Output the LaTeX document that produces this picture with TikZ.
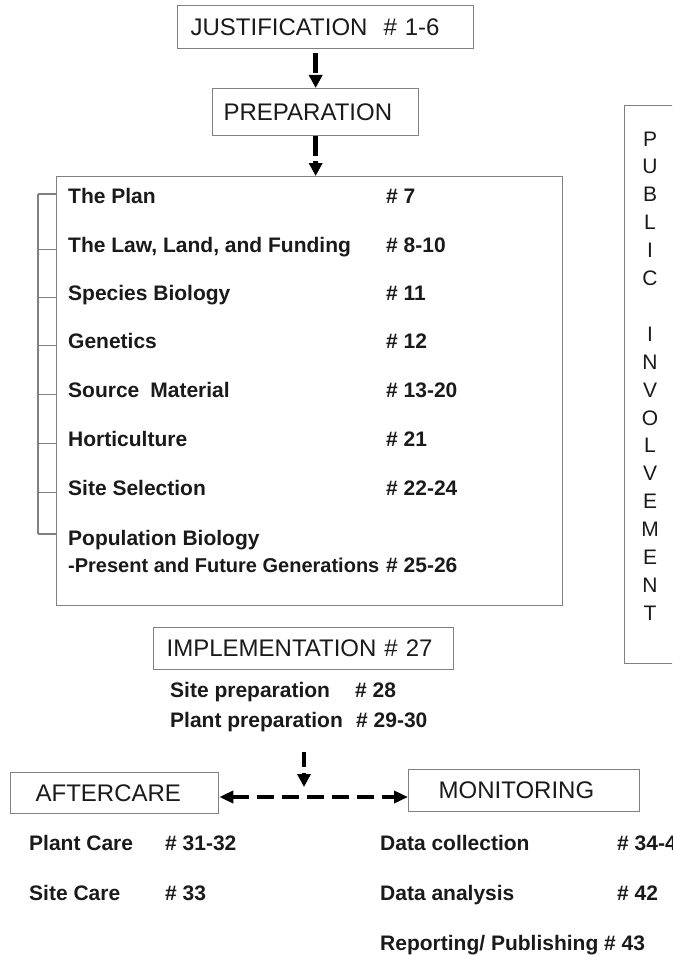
\documentclass[tikz,border=0pt]{standalone}
\usepackage{fontspec}
\setmainfont{Liberation Sans}
\usetikzlibrary{arrows.meta}
\definecolor{linegray}{HTML}{808080}
\definecolor{ink}{HTML}{1A1A1A}
\newcommand{\headfont}{\fontsize{24}{28}\selectfont}
\newcommand{\itemfont}{\fontsize{21}{25}\selectfont\bfseries}
\newcommand{\smallitemfont}{\fontsize{20}{24}\selectfont\bfseries}
\begin{document}
\begin{tikzpicture}[x=1pt,y=-1pt,
  every node/.style={text=ink},
  hbox/.style={draw=linegray, line width=1.3pt, anchor=north west, font=\headfont, align=left, inner ysep=0pt},
  frame/.style={draw=linegray, line width=1.3pt, anchor=north west, inner sep=0pt},
  item/.style={anchor=base west, inner sep=0pt, font=\itemfont},
  smallitem/.style={anchor=base west, inner sep=0pt, font=\smallitemfont},
  tick/.style={draw=linegray, line width=1.3pt},
  vdash/.style={line width=4.5pt, dash pattern=on 20pt off 5pt, -{Triangle[length=13pt,width=13pt]}},
  hdash/.style={line width=4pt, dash pattern=on 17pt off 8pt, {Triangle[length=14pt,width=12pt]}-{Triangle[length=14pt,width=12pt]}}
]
\useasboundingbox (0,0) rectangle (672,955);
\clip (0,0) rectangle (672,955);

% top boxes
\node[hbox, minimum width=296pt, minimum height=43pt, inner xsep=13pt, text width=270pt] (just) at (177,5) {JUSTIFICATION\hspace{16pt}\# 1-6};
\node[hbox, minimum width=206pt, minimum height=47pt, inner xsep=11pt, text width=184pt] (prep) at (212,88) {PREPARATION};

% big preparation frame
\node[frame, minimum width=506pt, minimum height=429pt] (plan) at (56,176) {};

% rows
\node[item] (r1) at (68,203) {The Plan};
\node[item] (r2) at (68,252) {The Law, Land, and Funding};
\node[item] (r3) at (68,300) {Species Biology};
\node[item] (r4) at (68,348) {Genetics};
\node[item] (r5) at (68,397) {Source\hspace{11pt}Material};
\node[item] (r6) at (68,446) {Horticulture};
\node[item] (r7) at (68,495) {Site Selection};
\node[item] (r8) at (68,545) {Population Biology};
\node[smallitem] (r9) at (68,572) {-Present and Future Generations};

\node[item] (n1) at (386,203) {\# 7};
\node[item] (n2) at (386,252) {\# 8-10};
\node[item] (n3) at (386,300) {\# 11};
\node[item] (n4) at (386,348) {\# 12};
\node[item] (n5) at (386,397) {\# 13-20};
\node[item] (n6) at (386,446) {\# 21};
\node[item] (n7) at (386,495) {\# 22-24};
\node[item] (n9) at (386,572) {\# 25-26};

% bracket
\coordinate (bt) at (38,194);
\coordinate (bb) at (38,534);
\draw[tick] (bt) -- (bb);
\draw[tick] (bt) -- (bt -| plan.west);
\draw[tick] (r2.mid west -| bt) -- (r2.mid west -| plan.west);
\draw[tick] (r3.mid west -| bt) -- (r3.mid west -| plan.west);
\draw[tick] (r4.mid west -| bt) -- (r4.mid west -| plan.west);
\draw[tick] (r5.mid west -| bt) -- (r5.mid west -| plan.west);
\draw[tick] (r6.mid west -| bt) -- (r6.mid west -| plan.west);
\draw[tick] (r7.mid west -| bt) -- (r7.mid west -| plan.west);
\draw[tick] (bb) -- (bb -| plan.west);

% public involvement
\node[frame, minimum width=70pt, minimum height=558pt] (pub) at (624,105) {};
\node[inner sep=0pt, align=center, font=\fontsize{21}{27.9}\selectfont] (pubtxt) at (650,376)
  {P\\U\\B\\L\\I\\C\\[27.9pt]I\\N\\V\\O\\L\\V\\E\\M\\E\\N\\T};

% implementation
\node[hbox, minimum width=300pt, minimum height=42pt, inner xsep=13pt, text width=274pt] (impl) at (153,627) {IMPLEMENTATION \# 27};
\node[item] (s1) at (170,697) {Site preparation};
\node[item] (s1n) at (355,697) {\# 28};
\node[item] (s2) at (170,727) {Plant preparation};
\node[item] (s2n) at (356,727) {\# 29-30};

% aftercare / monitoring
\node[hbox, minimum width=208pt, minimum height=41pt, inner xsep=25pt, text width=158pt] (after) at (10,772) {AFTERCARE};
\node[hbox, minimum width=231pt, minimum height=42pt, inner xsep=30pt, text width=171pt] (monit) at (408,769) {MONITORING};

\node[item] (a1) at (29,850) {Plant Care};
\node[item] (a1n) at (165,850) {\# 31-32};
\node[item] (a2) at (29,900) {Site Care};
\node[item] (a2n) at (165,900) {\# 33};

\node[item] (m1) at (380,850) {Data collection};
\node[item] (m1n) at (617,850) {\# 34-41};
\node[item] (m2) at (380,900) {Data analysis};
\node[item] (m2n) at (617,900) {\# 42};
\node[item] (m3) at (380,950) {Reporting/ Publishing \# 43};

% arrows
\draw[vdash, shorten <=4pt] (prep.north |- just.south) -- (prep.north);
\draw[vdash] (prep.south) -- (prep.south |- plan.north);
\coordinate (vtop) at (304,752);
\coordinate (mid) at (304,797);
\draw[vdash, dash pattern=on 15pt off 6pt, shorten >=10pt] (vtop) -- (mid);
\draw[hdash] (after.east |- mid) -- (monit.west |- mid);
\end{tikzpicture}
\end{document}
